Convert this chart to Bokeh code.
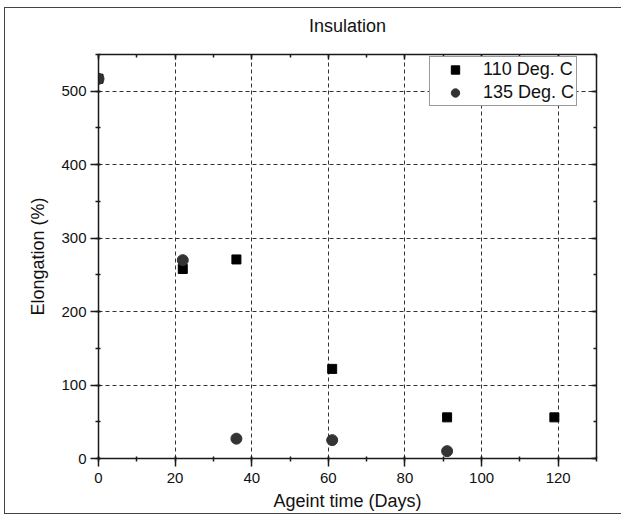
from bokeh.plotting import figure
from bokeh.models import (Range1d, LinearAxis, SingleIntervalTicker, Legend,
                          LegendItem, CustomLabelingPolicy)
from bokeh.embed import file_html
from bokeh.resources import INLINE

# ---- data ----
days_110 = [0, 22, 36, 61, 91, 119]
elong_110 = [517, 258, 271, 122, 56, 56]
days_135 = [0, 22, 36, 61, 91]
elong_135 = [517, 270, 27, 25, 10]

FONT = "Liberation Sans"
TXT = "#111111"

p = figure(frame_width=498, frame_height=404,
           x_range=Range1d(0, 130), y_range=Range1d(0, 550),
           output_backend="svg", toolbar_location=None,
           min_border_left=93, min_border_right=20,
           min_border_top=43, min_border_bottom=54,
           title="Insulation")
p.styles = {"margin-left": "4px", "margin-top": "7px",
            "border": "1px solid #444444"}

p.outline_line_color = None
p.background_fill_color = "white"
p.border_fill_color = "white"

p.title.text_font = FONT
p.title.text_font_size = "18px"
p.title.text_font_style = "normal"
p.title.text_color = TXT
p.title.align = "center"
p.title.standoff = 11

xt = SingleIntervalTicker(interval=20, num_minor_ticks=2)
yt = SingleIntervalTicker(interval=100, num_minor_ticks=2)

hide_labels = CustomLabelingPolicy(code="""
    for (const i of indices) indices.unset(i)
    return indices
""")

def style_axis(ax, ticker, mj_in, mj_out, mn_in, mn_out, show_labels):
    ax.ticker = ticker
    ax.axis_line_color = "#1a1a1a"
    ax.axis_line_width = 1.5
    ax.major_tick_line_color = "#1a1a1a"
    ax.major_tick_line_width = 1.5
    ax.minor_tick_line_color = "#1a1a1a"
    ax.minor_tick_line_width = 1.5
    ax.major_tick_in = mj_in
    ax.major_tick_out = mj_out
    ax.minor_tick_in = mn_in
    ax.minor_tick_out = mn_out
    ax.major_label_text_font = FONT
    ax.major_label_text_color = TXT
    ax.major_label_text_font_size = "15px"
    if not show_labels:
        ax.major_label_policy = hide_labels
        ax.major_label_standoff = 0
    ax.axis_label_text_font = FONT
    ax.axis_label_text_font_size = "18px"
    ax.axis_label_text_font_style = "normal"
    ax.axis_label_text_color = TXT

xa = p.xaxis[0]
ya = p.yaxis[0]
style_axis(xa, xt, 2, 8, 2, 3, True)
style_axis(ya, yt, 2, 8, 2, 3, True)
xa.axis_label = "Ageint time (Days)"
ya.axis_label = "Elongation (%)"
xa.major_label_standoff = 6
xa.axis_label_standoff = 5
ya.major_label_standoff = 4
ya.axis_label_standoff = 10

top_ax = LinearAxis()
style_axis(top_ax, SingleIntervalTicker(interval=20, num_minor_ticks=2), 5, 0, 3, 0, False)
p.add_layout(top_ax, "above")
right_ax = LinearAxis()
style_axis(right_ax, SingleIntervalTicker(interval=100, num_minor_ticks=2), 5, 0, 3, 0, False)
p.add_layout(right_ax, "right")

for g in (p.xgrid[0], p.ygrid[0]):
    g.grid_line_color = "#333333"
    g.grid_line_width = 1
    g.grid_line_dash = "4 3"

r1 = p.scatter(days_110, elong_110, marker="square", size=9,
               fill_color="black", line_color="black")
r2 = p.scatter(days_135, elong_135, marker="circle", size=11,
               fill_color="#333333", line_color="#333333")

legend = Legend(items=[LegendItem(label="110 Deg. C", renderers=[r1]),
                       LegendItem(label="135 Deg. C", renderers=[r2])],
                location=(331, 352))
legend.label_text_font = FONT
legend.label_text_font_size = "18px"
legend.label_text_color = TXT
legend.border_line_color = "#333333"
legend.border_line_width = 1
legend.background_fill_alpha = 1
legend.padding = 2
legend.spacing = 2
legend.margin = 0
legend.glyph_width = 46
legend.glyph_height = 21
legend.label_height = 21
legend.label_standoff = 5
p.add_layout(legend, "center")

open("out.html", "w").write(file_html(p, INLINE))
